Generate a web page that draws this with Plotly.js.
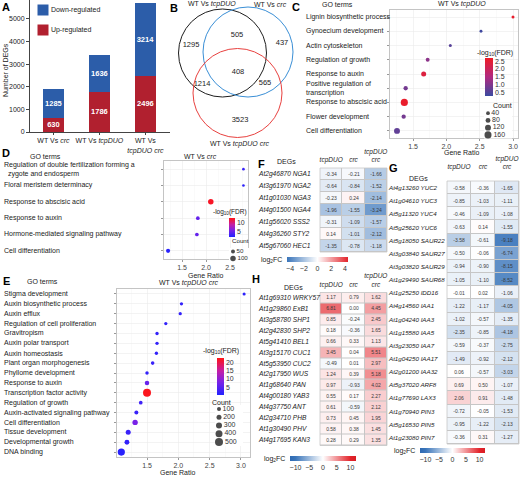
<!DOCTYPE html>
<html><head><meta charset="utf-8">
<script src="https://cdn.plot.ly/plotly-3.0.1.min.js"></script>
<style>html,body{margin:0;padding:0;background:#fff}#chart{width:520px;height:478px}</style>
</head><body><div id="chart"></div>
<script>
// ================= DATA =================
// Panel A
const compareLabels = ['WT Vs <i>crc</i>', 'WT Vs <i>tcpDUO</i>', 'WT Vs<br><i>tcpDUO crc</i>'];
const upRegulated = [630, 1786, 2496];
const downRegulated = [1285, 1636, 3214];
const yTicksA = [0, 1000, 2000, 3000, 4000, 5000];
const legendA = ['Down-regulated', 'Up-regulated'];

// Panel B (Venn)
const vennSets = ['WT Vs <i>tcpDUO</i>', 'WT Vs <i>crc</i>', 'WT Vs <i>tcpDUO crc</i>'];
// tcpDUO only, tcpDUO&crc, crc only, all three, tcpDUO&both, crc&both, both only
const vennCounts = [1295, 505, 437, 408, 1214, 565, 3523];

// Panel C
const goC = ['Lignin biosynthetic process', 'Gynoecium development', 'Actin cytoskeleton', 'Regulation of growth',
  'Response to auxin', 'Positive regulation of<br>transcription', 'Response to abscisic acid', 'Flower development', 'Cell differentiation'];
const ratioC = [3.00, 2.52, 2.06, 1.72, 1.66, 1.39, 1.37, 1.36, 1.26];
const countC = [12, 8, 12, 45, 85, 60, 165, 60, 120];
const fdrC = [2.6, 0.3, 0.55, 1.1, 2.35, 0.85, 2.6, 0.85, 0.65];
const countLegC = [40, 80, 120, 160];
const fdrTicksC = [0.5, 1.0, 1.5, 2.0, 2.5];

// Panel D
const goD = ['Regulation of double fertilization forming a<br>\u00a0\u00a0zygote and endosperm', 'Floral meristem determinacy',
  'Response to abscisic acid', 'Response to auxin', 'Hormone-mediated signaling pathway', 'Cell differentiation'];
const ratioD = [2.78, 2.78, 2.10, 1.83, 1.81, 1.21];
const countD = [4, 4, 100, 40, 40, 55];
const fdrD = [2.5, 2.0, 12.5, 4.5, 4.5, 1.8];
const countLegD = [50, 100];
const fdrTicksD = [5, 10];

// Panel E
const goE = ['Stigma development', 'Auxin biosynthetic process', 'Auxin efflux', 'Regulation of cell proliferation', 'Gravitropism',
  'Auxin polar transport', 'Auxin homeostasis', 'Plant organ morphogenesis', 'Phyllome development', 'Response to auxin',
  'Transcription factor activity', 'Regulation of growth', 'Auxin-activated signaling pathway', 'Cell differentiation',
  'Tissue development', 'Developmental growth', 'DNA binding'];
const ratioE = [3.05, 2.05, 2.03, 1.80, 1.66, 1.66, 1.65, 1.59, 1.50, 1.50, 1.50, 1.40, 1.33, 1.31, 1.20, 1.18, 1.09];
const countE = [10, 25, 25, 25, 35, 35, 35, 60, 45, 150, 500, 70, 100, 240, 200, 190, 420];
const fdrE = [1.5, 2, 2, 2, 2, 2, 2, 2.5, 2, 6.5, 22, 3, 2.5, 8, 2.5, 2, 1];
const countLegE = [100, 200, 300, 400, 500];
const fdrTicksE = [5, 10, 15, 20];

const ratioTicks = [1.5, 2.0, 2.5, 3.0];

// Heatmaps
const heatCols = ['tcpDUO', 'crc', 'tcpDUO<br>crc'];
const fGenes = ['At2g46870 NGA1', 'At3g61970 NGA2', 'At1g01030 NGA3', 'At4g01500 NGA4', 'At1g56020 SSS2', 'At4g36260 STY2', 'At5g67060 HEC1'];
const fTcp = [-0.34, -0.64, -0.23, -1.96, -0.31, 0.14, -1.35];
const fCrc = [-0.21, -0.84, 0.24, -1.55, -1.09, -1.01, -0.78];
const fBoth = [-1.66, -1.52, -2.14, -3.24, -1.57, -2.12, -1.18];
const fTicks = [-4, -2, 0, 2, 4];

const gGenes = ['At4g13260 YUC2', 'At1g04610 YUC3', 'At5g11320 YUC4', 'At5g25620 YUC6', 'At5g18050 SAUR22', 'At3g03840 SAUR27',
  'At3g03820 SAUR29', 'At1g29490 SAUR68', 'At1g25250 IDD16', 'At4g14560 IAA1', 'At1g04240 IAA3', 'At1g15580 IAA5',
  'At3g23050 IAA7', 'At1g04250 IAA17', 'At2g01200 IAA32', 'At5g37020 ARF8', 'At1g77690 LAX3', 'At1g70940 PIN3',
  'At5g16530 PIN5', 'At1g23080 PIN7'];
const gTcp = [-0.58, -0.85, -0.46, -0.63, -3.58, -0.50, -0.94, -1.05, -0.01, -1.22, -1.02, -2.35, -0.59, -1.49, 0.06, 0.69, 2.06, -0.72, -0.95, -0.36];
const gCrc = [-0.36, -1.03, -1.09, 0.14, -0.61, -0.06, -0.90, -1.10, 0.02, -1.17, -0.57, -0.85, -0.37, -0.92, -0.57, 0.50, 0.91, -0.05, -1.22, 0.31];
const gBoth = [-1.65, -1.11, -1.08, -1.55, -9.18, -6.74, -8.15, -8.52, -1.06, -4.05, -1.35, -4.18, -2.75, -2.12, -3.03, -1.07, -1.48, -1.53, -2.13, -1.27];

const hGenes = ['At1g69310 WRKY57', 'At1g29860 ExB1', 'At3g58780 SHP1', 'At2g42830 SHP2', 'At5g41410 BEL1', 'At3g15170 CUC1',
  'At5g53950 CUC2', 'At2g17950 WUS', 'At1g68640 PAN', 'At4g00180 YAB3', 'At4g37750 ANT', 'At2g34710 PHB', 'At1g30490 PHV', 'At4g17695 KAN3'];
const hTcp = [1.17, 6.81, 0.85, 0.18, 0.66, 3.45, -0.49, 1.24, 0.97, 0.55, 0.61, 0.73, 0.58, 0.28];
const hCrc = [0.79, 0.00, -0.24, -0.36, 0.33, 0.04, 0.01, 0.39, -0.93, 0.17, -0.59, 0.45, 0.38, 0.29];
const hBoth = [1.62, 4.45, 2.45, 1.65, 1.13, 5.51, 2.97, 5.18, 4.02, 2.27, 2.12, 1.95, 1.45, 1.35];
const ghTicks = [-10, -5, 0, 5, 10];

// ================= HELPERS / STYLE =================
const W = 520, H = 478;
const px = v => v / W;
const py = v => 1 - v / H;
const dom = (a, b) => [a / W, b / W];
const domY = (top, bottom) => [1 - bottom / H, 1 - top / H];
const FONT = 'Liberation Sans, Arial, Helvetica, sans-serif';
const idx = arr => arr.map((_, i) => i);

const traces = [];
const annotations = [];
const shapes = [];
const layout = {
  width: W, height: H, autosize: false,
  margin: {l: 0, r: 0, t: 0, b: 0, pad: 0},
  paper_bgcolor: '#ffffff', plot_bgcolor: '#ffffff',
  font: {family: FONT, size: 7, color: '#222'},
  showlegend: false, barmode: 'stack', hovermode: false,
  annotations, shapes
};

function ann(text, x, y, opts) {
  annotations.push(Object.assign({text, x: px(x), y: py(y), xref: 'paper', yref: 'paper', showarrow: false,
    xanchor: 'center', yanchor: 'middle', font: {size: 7, color: '#222', family: FONT}}, opts || {}));
}
function letter(t, x, y) { ann('<b>' + t + '</b>', x, y, {font: {size: 11, color: '#000', family: FONT}}); }

// ================= PANEL A =================
layout.xaxis = {domain: dom(30, 173), range: [-0.51, 2.6], anchor: 'y', tickvals: idx(compareLabels), ticktext: compareLabels,
  showline: true, linecolor: '#444', linewidth: 1, ticks: 'outside', ticklen: 2, tickcolor: '#444',
  tickfont: {size: 7, color: '#222'}, showgrid: false, zeroline: false};
layout.yaxis = {domain: domY(0, 132), range: [0, 5840], anchor: 'x', tickvals: yTicksA, showline: true, linecolor: '#444',
  linewidth: 1, ticks: 'outside', ticklen: 3, tickcolor: '#444', tickfont: {size: 7, color: '#222'}, showgrid: false, zeroline: false};
const colUp = '#B1202F', colDown = '#2C5DA9';
[[upRegulated, colUp], [downRegulated, colDown]].forEach(([vals, col]) => traces.push({type: 'bar', x: idx(compareLabels), y: vals,
  width: 0.47, marker: {color: col, line: {width: 0}}, texttemplate: '<b>%{y}</b>', textposition: 'inside', textangle: 0,
  insidetextanchor: 'middle', constraintext: 'none', textfont: {color: '#fff', size: 7.5, family: FONT},
  xaxis: 'x', yaxis: 'y', hoverinfo: 'skip', showlegend: false}));
ann('Number of DEGs', 5, 70, {textangle: -90});
// legend keys (axis 12)
layout.xaxis12 = {domain: dom(30, 130), range: [-13, 87], anchor: 'y12', visible: false};
layout.yaxis12 = {domain: domY(0, 40), range: [1.5, -0.5], anchor: 'x12', visible: false};
traces.push({type: 'scatter', mode: 'markers+text', x: legendA.map(() => 0), y: idx(legendA), text: legendA,
  textposition: 'middle right', textfont: {size: 7, color: '#222'}, cliponaxis: false,
  marker: {symbol: 'square', size: 11, color: [colDown, colUp]}, xaxis: 'x12', yaxis: 'y12', hoverinfo: 'skip', showlegend: false});
letter('A', 6, 7);

// ================= PANEL B (Venn) =================
layout.xaxis2 = {domain: dom(170, 300), range: [170, 300], anchor: 'y2', visible: false};
layout.yaxis2 = {domain: domY(0, 150), range: [150, 0], anchor: 'x2', visible: false};
const vennCircles = [
  {cx: 222.5, cy: 53, r: 44, color: '#1E1E1E'},
  {cx: 248, cy: 52, r: 45, color: '#3A8FD6'},
  {cx: 237.5, cy: 93, r: 44.5, color: '#E8413F'}
];
vennCircles.forEach(c => shapes.push({type: 'circle', xref: 'x2', yref: 'y2', x0: c.cx - c.r, x1: c.cx + c.r, y0: c.cy - c.r, y1: c.cy + c.r,
  line: {color: c.color, width: 1}, fillcolor: 'rgba(0,0,0,0)', layer: 'above'}));
const vennPos = [[191, 45], [237, 35], [282, 43], [238, 72], [202, 84], [265, 83], [240, 120]];
traces.push({type: 'scatter', mode: 'text', x: vennPos.map(p => p[0]), y: vennPos.map(p => p[1]), text: vennCounts.map(String),
  textfont: {size: 7.5, color: '#222'}, xaxis: 'x2', yaxis: 'y2', hoverinfo: 'skip', showlegend: false, cliponaxis: false});
const vennLabPos = [[212, 4], [270, 4], [239, 144]];
vennSets.forEach((s, i) => ann(s, vennLabPos[i][0], vennLabPos[i][1]));
letter('B', 174, 8);

// ================= DOT PLOTS =================
const scaleC = [[0, '#3B4AA0'], [0.5, '#B02A80'], [1, '#EE1C25']];
const scaleDE = [[0, '#2222FF'], [0.35, '#7A22E6'], [0.65, '#C41FA6'], [1, '#FF1414']];

function dotPlot(o) {
  const n = o.cats.length;
  const ax = o.ax;
  layout['xaxis' + ax] = {domain: dom(o.x0, o.x1), range: o.xr, anchor: 'y' + ax, tickvals: o.xt, ticktext: o.xt.map(v => v.toFixed(1)),
    ticks: 'outside', ticklen: 2, tickcolor: '#999', tickfont: {size: 7, color: '#444'}, showgrid: true, gridcolor: '#EBEBEB', gridwidth: 0.6,
    minor: {tickvals: o.xt.map(v => v - 0.25).concat([o.xt[o.xt.length - 1] + 0.25]), showgrid: true, gridcolor: '#F5F5F5', gridwidth: 0.5},
    showline: true, mirror: true, linecolor: '#B5B5B5', linewidth: 0.8, zeroline: false};
  layout['yaxis' + ax] = {domain: domY(o.y0, o.y1), range: [n - 0.5, -0.5], anchor: 'x' + ax, tickvals: idx(o.cats), showticklabels: false,
    ticks: 'outside', ticklen: 2, tickcolor: '#999', showgrid: true, gridcolor: '#EBEBEB', gridwidth: 0.6,
    showline: true, mirror: true, linecolor: '#B5B5B5', linewidth: 0.8, zeroline: false};
  traces.push({type: 'scatter', mode: 'markers', x: o.ratio, y: idx(o.cats), xaxis: 'x' + ax, yaxis: 'y' + ax, hoverinfo: 'skip', showlegend: false,
    cliponaxis: false,
    marker: {size: o.count.map(o.sizeFn), color: o.fdr, colorscale: o.scale, cmin: o.cmin, cmax: o.cmax, line: {width: 0}, opacity: 1,
      showscale: true, colorbar: Object.assign({xanchor: 'left', yanchor: 'top', lenmode: 'pixels', thicknessmode: 'pixels', xpad: 0, ypad: 0,
        outlinewidth: 0, ticks: '', tickfont: {size: 7, color: '#333'}}, o.cb)}});
  o.cats.forEach((c, i) => annotations.push({text: c, x: px(o.labX), xref: 'paper', y: i, yref: 'y' + ax, xanchor: 'left', yanchor: 'middle',
    align: 'left', showarrow: false, font: {size: 7, color: '#222', family: FONT}}));
  // count legend
  const la = o.legAx;
  layout['xaxis' + la] = {domain: dom(o.leg.x0, o.leg.x0 + 28), range: [-o.leg.dx, 28 - o.leg.dx], anchor: 'y' + la, visible: false};
  layout['yaxis' + la] = {domain: domY(o.leg.y0, o.leg.y1), range: [o.legVals.length - 0.5, -0.5], anchor: 'x' + la, visible: false};
  traces.push({type: 'scatter', mode: 'markers+text', x: o.legVals.map(() => 0), y: idx(o.legVals), text: o.legVals.map(String),
    textposition: 'middle right', textfont: {size: o.legFont || 7, color: '#333'}, cliponaxis: false,
    marker: {size: o.legVals.map(o.sizeFn), color: '#000', line: {width: 0}}, xaxis: 'x' + la, yaxis: 'y' + la, hoverinfo: 'skip', showlegend: false});
}

// Panel C
dotPlot({ax: 3, legAx: 9, cats: goC, ratio: ratioC, count: countC, fdr: fdrC, x0: 390, x1: 518, y0: 10, y1: 138, xr: [1.155, 3.075],
  xt: ratioTicks, labX: 304, sizeFn: c => 2.7 + 0.027 * c, scale: scaleC, cmin: 0.25, cmax: 2.7,
  cb: {x: px(485), y: py(58), len: 38, thickness: 8, tickvals: fdrTicksC, ticktext: fdrTicksC.map(v => v.toFixed(1))},
  legVals: countLegC, leg: {x0: 484, dx: 4, y0: 109.5, y1: 138.5}});
ann('-log<sub>10</sub>(FDR)', 495, 53);
ann('Count', 502, 105);
ann('GO terms', 337, 4);
ann('WT Vs <i>tcpDUO</i>', 462, 4);
ann('Gene Ratio', 462, 153);
letter('C', 296, 7);

// Panel D
dotPlot({ax: 4, legAx: 10, cats: goD, ratio: ratioD, count: countD, fdr: fdrD, x0: 164, x1: 248, y0: 161, y1: 259, xr: [1.125, 2.875],
  xt: [1.5, 2.0, 2.5], labX: 2, sizeFn: c => 2.5 + 0.03 * c, scale: scaleDE, cmin: 1.5, cmax: 13,
  cb: {x: px(229), y: py(218), len: 19, thickness: 6, tickvals: fdrTicksD, ticktext: fdrTicksD.map(String)},
  legVals: countLegD, legFont: 6.2, leg: {x0: 229, dx: 4, y0: 248, y1: 262}});
ann('-log<sub>10</sub>(FDR)', 230, 212, {font: {size: 6.5, color: '#222', family: FONT}});
ann('Count', 240, 240.5, {font: {size: 6.2, color: '#222', family: FONT}});
ann('GO terms', 45, 156);
ann('WT Vs <i>crc</i>', 200, 156);
ann('Gene Ratio', 206, 275);
letter('D', 6, 153);

// Panel E
dotPlot({ax: 5, legAx: 11, cats: goE, ratio: ratioE, count: countE, fdr: fdrE, x0: 117, x1: 250, y0: 289, y1: 457, xr: [1.021, 3.144],
  xt: ratioTicks, labX: 2, sizeFn: c => 3 + 0.01 * c, scale: scaleDE, cmin: 0.5, cmax: 22.5,
  cb: {x: px(217), y: py(358), len: 37, thickness: 7, tickvals: fdrTicksE, ticktext: fdrTicksE.map(String)},
  legVals: countLegE, leg: {x0: 215, dx: 4, y0: 405, y1: 446}});
ann('-log<sub>10</sub>(FDR)', 221, 351);
ann('Count', 221, 402);
ann('GO terms', 42, 281);
ann('WT Vs <i>tcpDUO crc</i>', 188, 283);
ann('Gene Ratio', 178, 472);
letter('E', 6, 281);

// ================= HEATMAPS =================
const scaleF = [[0, '#3A75BA'], [0.5, '#FFFFFF'], [1, '#E3242B']];
const scaleGH = [[0, '#2E6AB3'], [0.083, '#3A75BA'], [0.5, '#FFFFFF'], [0.917, '#E3242B'], [1, '#D91E25']];

function heat(o) {
  const ax = o.ax, n = o.genes.length;
  layout['xaxis' + ax] = {domain: dom(o.x0, o.x1), range: [-0.5, 2.5], anchor: 'y' + ax, side: 'top', tickvals: idx(heatCols), ticktext: heatCols,
    ticks: 'outside', ticklen: o.hlen, tickcolor: 'rgba(0,0,0,0)', tickfont: {size: 6.5, style: 'italic', color: '#222'},
    showgrid: false, zeroline: false, showline: false};
  layout['yaxis' + ax] = {domain: domY(o.y0, o.y1), range: [n - 0.5, -0.5], anchor: 'x' + ax, tickvals: idx(o.genes), showticklabels: false,
    ticks: '', showgrid: false, zeroline: false, showline: false};
  o.genes.forEach((g, i) => annotations.push({text: '<i>' + g + '</i>', x: px(o.labX), xref: 'paper', y: i, yref: 'y' + ax,
    xanchor: 'left', yanchor: 'middle', showarrow: false, font: {size: o.labFont, color: '#222', family: FONT}}));
  shapes.push({type: 'rect', xref: 'x' + ax + ' domain', yref: 'y' + ax + ' domain', x0: 0, x1: 1, y0: 0, y1: 1,
    fillcolor: '#C6C6C6', line: {width: 0}, layer: 'below'});
  shapes.push({type: 'rect', xref: 'x' + ax + ' domain', yref: 'y' + ax + ' domain', x0: 0, x1: 1, y0: 0, y1: 1,
    fillcolor: 'rgba(0,0,0,0)', line: {width: 0.8, color: '#C6C6C6'}, layer: 'above'});
  traces.push({type: 'heatmap', x: idx(heatCols), y: idx(o.genes), z: o.genes.map((g, i) => [o.a[i], o.b[i], o.c[i]]),
    zmin: o.zmin, zmax: o.zmax, colorscale: o.scale, xgap: 1, ygap: 1, texttemplate: '%{z:.2f}',
    textfont: {size: 5, color: '#3A3A3A', family: FONT}, xaxis: 'x' + ax, yaxis: 'y' + ax, hoverinfo: 'skip', showlegend: false,
    showscale: true, colorbar: Object.assign({orientation: 'h', xanchor: 'left', yanchor: 'top', lenmode: 'pixels', thicknessmode: 'pixels',
      xpad: 0, ypad: 0, outlinewidth: 0, ticks: '', tickfont: {size: 7, color: '#333'}}, o.cb)});
}

heat({ax: 6, genes: fGenes, a: fTcp, b: fCrc, c: fBoth, x0: 320, x1: 387, y0: 168, y1: 252, zmin: -4.45, zmax: 4.45, scale: scaleF, hlen: 2,
  labX: 256, labFont: 6.6, cb: {x: px(287), y: py(257), len: 61, thickness: 5, tickvals: fTicks}});
ann('log<sub>2</sub>FC', 284, 260, {xanchor: 'right'});
ann('DEGs', 286, 162);
letter('F', 261, 164);

heat({ax: 7, genes: gGenes, a: gTcp, b: gCrc, c: gBoth, x0: 447, x1: 519, y0: 181, y1: 444, zmin: -12, zmax: 12, scale: scaleGH, hlen: 8,
  labX: 386, labFont: 6.2, cb: {x: px(420), y: py(448), len: 65, thickness: 5, tickvals: ghTicks}});
ann('log<sub>2</sub>FC', 417, 451, {xanchor: 'right'});
ann('DEGs', 418, 178);
letter('G', 393, 168);

heat({ax: 8, genes: hGenes, a: hTcp, b: hCrc, c: hBoth, x0: 320, x1: 387, y0: 292.5, y1: 445.5, zmin: -12, zmax: 12, scale: scaleGH, hlen: 2,
  labX: 256, labFont: 6.6, cb: {x: px(290), y: py(456), len: 66, thickness: 5, tickvals: ghTicks}});
ann('log<sub>2</sub>FC', 287, 459, {xanchor: 'right'});
ann('DEGs', 293, 287);
letter('H', 256, 279);

Plotly.newPlot('chart', traces, layout, {staticPlot: true, displayModeBar: false});
</script>
</body></html>
